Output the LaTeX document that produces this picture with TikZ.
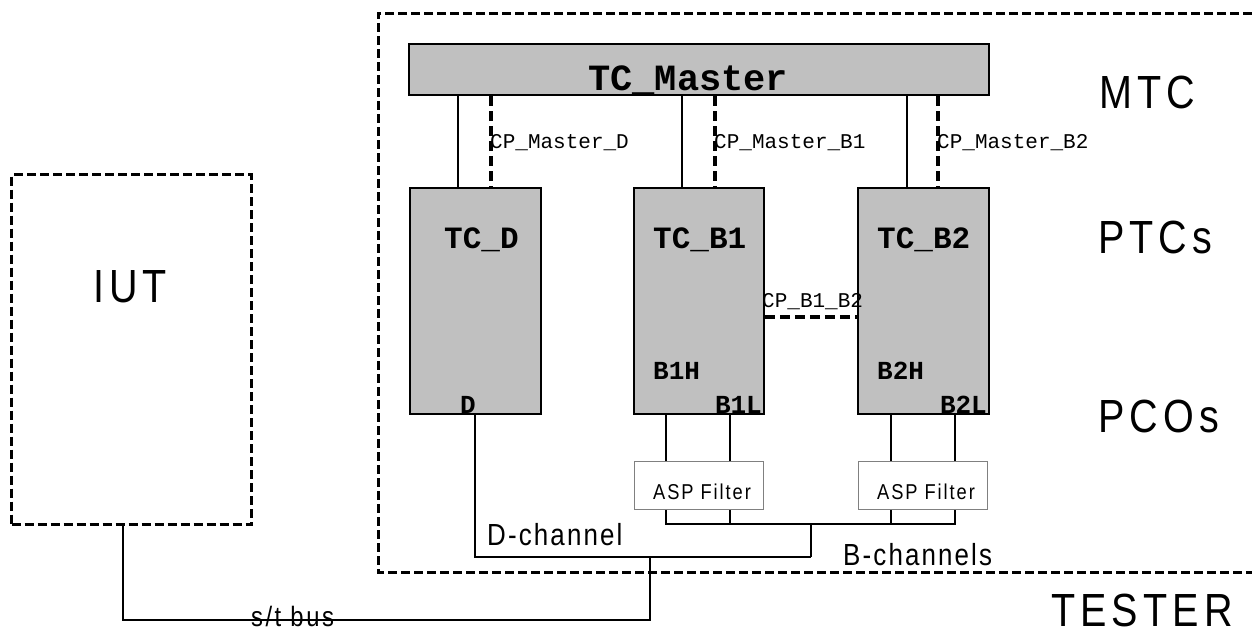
\documentclass[tikz,border=0pt]{standalone}
\usepackage{fontspec}
\setmainfont{Liberation Sans}
\newfontfamily\monof{Liberation Mono}
\newfontfamily\bigsf[FakeStretch=0.85,LetterSpace=11]{Liberation Sans}
\newfontfamily\midsf[FakeStretch=0.85,LetterSpace=7]{Liberation Sans}
\newfontfamily\smallsf[FakeStretch=0.85,LetterSpace=9]{Liberation Sans}
\usetikzlibrary{calc}
\definecolor{boxgray}{HTML}{C0C0C0}
\definecolor{filtgray}{HTML}{808080}
\newcommand\fBig{\bigsf\fontsize{46.5}{50}\selectfont}
\newcommand\fMid{\midsf\fontsize{30.5}{34}\selectfont}
\newcommand\fBus{\smallsf\fontsize{28}{30}\selectfont}
\newcommand\fAsp{\smallsf\fontsize{21.5}{24}\selectfont}
\newcommand\fMaster{\monof\bfseries\fontsize{37}{40}\selectfont}
\newcommand\fTC{\monof\bfseries\fontsize{31}{34}\selectfont}
\newcommand\fPort{\monof\bfseries\fontsize{26}{28}\selectfont}
\newcommand\fCP{\monof\fontsize{21}{24}\selectfont}
\tikzset{
  graybox/.style={draw, line width=2pt, fill=boxgray, anchor=north west, inner sep=0pt},
  ptcbox/.style={graybox, minimum width=131pt, minimum height=226pt},
  filterbox/.style={draw=filtgray, line width=1.3pt, fill=white, anchor=north west, inner sep=0pt, minimum width=129pt, minimum height=48pt},
  dashbox/.style={draw, line width=3pt, dash pattern=on 9pt off 4pt},
  cpline/.style={line width=4pt, dash pattern=on 10pt off 5pt},
  wire/.style={line width=2pt},
  txt/.style={inner sep=0pt, anchor=base west},
}
\begin{document}
\begin{tikzpicture}[x=1pt,y=-1pt]
\useasboundingbox (0,0) rectangle (1252,637);

% tester frame (open to the right)
\coordinate (tTR) at (1252,13);
\coordinate (tTL) at (378,13);
\coordinate (tBL) at (378,572);
\coordinate (tBR) at (1252,572);
\draw[dashbox] (tTR) -- (tTL) -- (tBL) -- (tBR);

% IUT
\node[dashbox, anchor=north west, minimum width=240pt, minimum height=350pt, inner sep=0pt] (iut) at (10,173) {};
\node[txt] (iutl) at (93,302) {\fBig IUT};

% master and PTCs
\node[graybox, minimum width=580pt, minimum height=51pt] (master) at (408,43) {};
\node[txt] (masterl) at (588,90) {\fMaster TC\_Master};

\node[ptcbox] (tcd) at (409,187) {};
\node[ptcbox, minimum width=130pt] (tcb1) at (633,187) {};
\node[ptcbox] (tcb2) at (857,187) {};

\node[txt] (tcdl) at (444,248) {\fTC TC\_D};
\node[txt] (tcb1l) at (653,248) {\fTC TC\_B1};
\node[txt] (tcb2l) at (877,248) {\fTC TC\_B2};

\node[txt] (b1h) at (653,379) {\fPort B1H};
\node[txt] (b2h) at (877,379) {\fPort B2H};
\node[inner sep=0pt, anchor=base east] (b1l) at (762,413) {\fPort B1L};
\node[inner sep=0pt, anchor=base east] (b2l) at (987,413) {\fPort B2L};
\node[txt] (dl) at (460,413) {\fPort D};

% master -> PTC connectors
\coordinate (cD1) at (458,187);
\coordinate (cD2) at (491,187);
\coordinate (cB11) at (682,187);
\coordinate (cB12) at (715,187);
\coordinate (cB21) at (907,187);
\coordinate (cB22) at (938,187);
\draw[wire] (cD1 |- master.south) -- (cD1 |- tcd.north);
\draw[cpline] (cD2 |- master.south) -- (cD2 |- tcd.north);
\draw[wire] (cB11 |- master.south) -- (cB11 |- tcb1.north);
\draw[cpline] (cB12 |- master.south) -- (cB12 |- tcb1.north);
\draw[wire] (cB21 |- master.south) -- (cB21 |- tcb2.north);
\draw[cpline] (cB22 |- master.south) -- (cB22 |- tcb2.north);

\node[txt] (cpd) at (490,148) {\fCP CP\_Master\_D};
\node[txt] (cpb1) at (714,148) {\fCP CP\_Master\_B1};
\node[txt] (cpb2) at (937,148) {\fCP CP\_Master\_B2};

% CP_B1_B2
\coordinate (cpy) at (800,317);
\draw[cpline] (tcb1.east |- cpy) -- (tcb2.west |- cpy);
\node[txt] (cpbb) at (762,307) {\fCP CP\_B1\_B2};

% filters
\node[filterbox] (f1) at (634,461) {};
\node[filterbox] (f2) at (858,461) {};
\node[inner sep=0pt, anchor=base] (f1l) at (702,499) {\fAsp ASP Filter};
\node[inner sep=0pt, anchor=base] (f2l) at (926,499) {\fAsp ASP Filter};

\coordinate (x1a) at (666,0);
\coordinate (x1b) at (730,0);
\coordinate (x2a) at (891,0);
\coordinate (x2b) at (955,0);
\coordinate (bj) at (811,524);
\coordinate (dj) at (811,557);
\coordinate (dx) at (475,0);
\coordinate (busx) at (650,557);
\coordinate (busy) at (0,620);
\coordinate (iutx) at (123,0);

\draw[wire] (x1a |- tcb1.south) -- (x1a |- f1.north);
\draw[wire] (x1b |- tcb1.south) -- (x1b |- f1.north);
\draw[wire] (x2a |- tcb2.south) -- (x2a |- f2.north);
\draw[wire] (x2b |- tcb2.south) -- (x2b |- f2.north);

\draw[wire] (x1a |- f1.south) -- (x1a |- bj) -- (x2b |- bj) -- (x2b |- f2.south);
\draw[wire] (x1b |- f1.south) -- (x1b |- bj);
\draw[wire] (x2a |- f2.south) -- (x2a |- bj);
\draw[wire] (bj) -- (dj);

\draw[wire] (dx |- tcd.south) -- (dx |- dj) -- (dj);
\draw[wire] (busx) -- (busx |- busy) -- (iutx |- busy) -- (iutx |- iut.south);

% channel labels
\node[txt] (dch) at (487,545) {\fMid D-channel};
\node[txt] (bch) at (843,565) {\fMid B-channels};
\node[txt] (stbus) at (251,626) {\fBus s/t bus};

% level labels
\node[txt] (mtc) at (1099,108) {\fBig MTC};
\node[txt] (ptcs) at (1098,253) {\fBig PTCs};
\node[txt] (pcos) at (1098,432) {\fBig PCOs};
\node[txt] (tester) at (1051,626) {\fBig TESTER};
\end{tikzpicture}
\end{document}
